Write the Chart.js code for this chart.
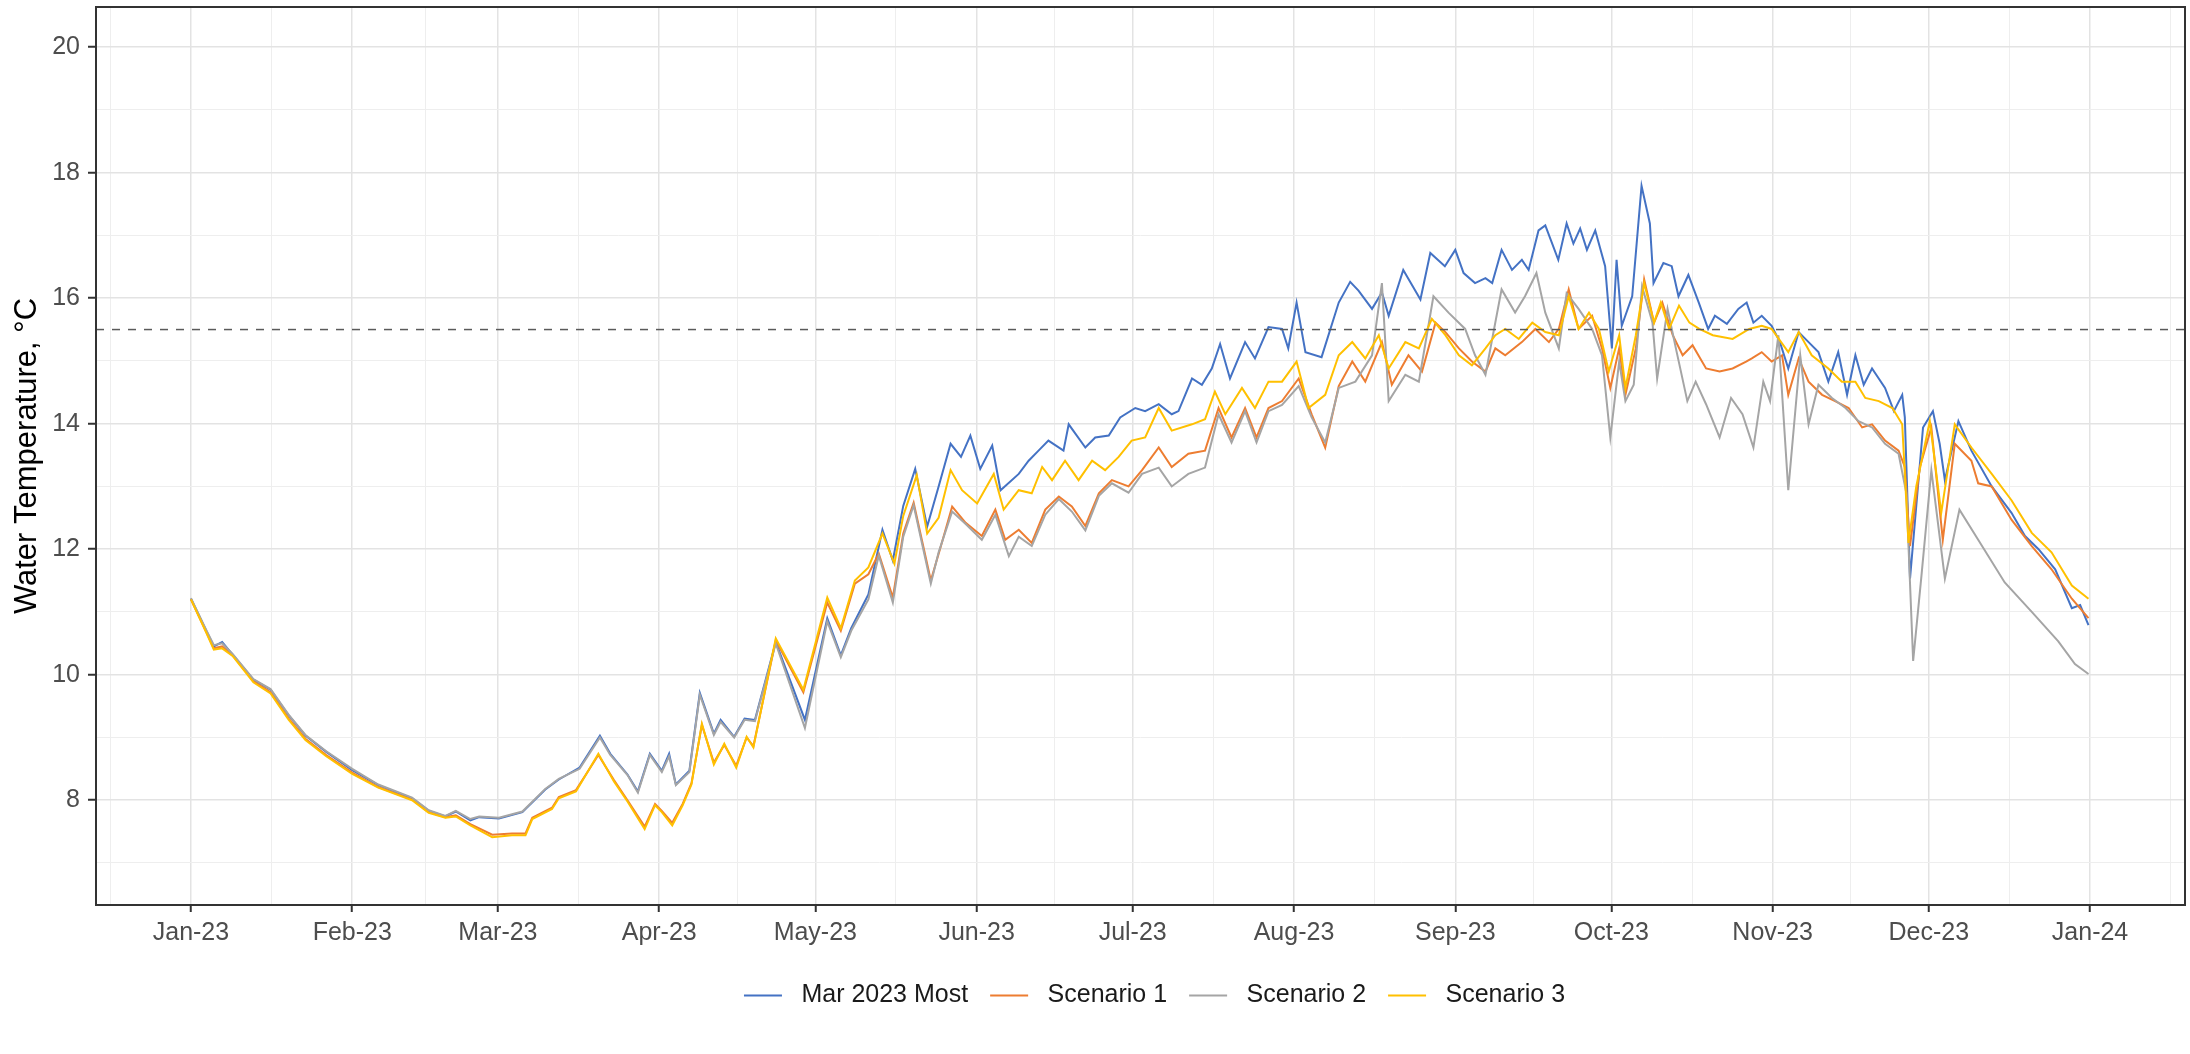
<!DOCTYPE html>
<html>
<head>
<meta charset="utf-8">
<title>Water Temperature 2023</title>
<script src="https://cdn.jsdelivr.net/npm/chart.js@4/dist/chart.umd.min.js"></script>
<style>
	html, body { margin: 0; padding: 0; background: #fff; }
	#wrap { width: 2190px; height: 1054px; }
</style>
</head>
<body>
<div id="wrap"><canvas id="chart" width="2190" height="1054"></canvas></div>
<script>
// day of year (0 = 1 Jan 2023), temperature in degC
const mostPts = [
	[0,11.21],[3,10.69],[4.4,10.45],[6,10.52],[8,10.32],[12,9.92],[15.3,9.76],[18.8,9.35],[22,9.03],[26,8.77],
	[31,8.48],[36,8.24],[42.5,8.03],[45.7,7.83],[48.9,7.74],[50.9,7.82],[53.7,7.68],[55.4,7.73],[59.2,7.71],[63.7,7.81],
	[68.1,8.17],[70.7,8.33],[74.7,8.52],[78.6,9.03],[80.6,8.74],[83.9,8.41],[85.9,8.14],[88.2,8.74],[90.5,8.47],[91.9,8.74],
	[93.2,8.25],[95.8,8.47],[97.8,9.71],[100.5,9.06],[101.8,9.28],[104.4,9.01],[106.4,9.30],[108.4,9.28],[112.4,10.52],[118,9.28],
	[122.3,10.90],[124.9,10.31],[126.9,10.74],[130.2,11.28],[132.9,12.31],[134.9,11.82],[136.9,12.69],[139.2,13.28],[141.5,12.36],[143.7,13.0],
	[146,13.68],[148,13.47],[149.8,13.81],[151.7,13.28],[154,13.65],[155.6,12.94],[159.1,13.2],[161,13.41],[162.9,13.57],[164.8,13.73],
	[167.7,13.57],[168.7,13.99],[171.9,13.62],[173.8,13.78],[176.4,13.81],[178.6,14.10],[181.5,14.25],[183.4,14.2],[186,14.31],[188.5,14.15],
	[189.8,14.2],[192.4,14.72],[194.3,14.62],[196.2,14.88],[197.8,15.27],[199.7,14.72],[202.6,15.3],[204.5,15.04],[207.1,15.54],[209.7,15.51],
	[210.9,15.2],[212.5,15.93],[214.2,15.14],[217.3,15.06],[220.6,15.93],[222.8,16.26],[224.4,16.12],[227,15.83],[228.9,16.09],[230.2,15.72],
	[233,16.45],[236.3,15.98],[238.2,16.72],[241,16.51],[243,16.77],[244.6,16.4],[246.8,16.24],[248.8,16.32],[250.1,16.24],[251.9,16.77],
	[253.9,16.45],[255.8,16.61],[257.1,16.45],[259,17.08],[260.3,17.16],[262.8,16.61],[264.4,17.19],[265.7,16.87],[267,17.11],[268.3,16.77],
	[269.9,17.08],[271.8,16.51],[273.1,15.2],[274,16.61],[275,15.56],[277,16.03],[278.8,17.79],[280.4,17.19],[281.1,16.24],[283,16.56],
	[284.6,16.51],[285.9,16.03],[287.8,16.37],[289.8,15.93],[291.6,15.51],[292.9,15.72],[295.2,15.59],[297.4,15.83],[299,15.93],[300.3,15.61],
	[301.9,15.72],[303.8,15.56],[305.4,15.30],[307,14.88],[309,15.46],[310.9,15.3],[312.8,15.14],[314.7,14.67],[316.6,15.14],[318.3,14.46],
	[319.9,15.09],[321.5,14.62],[323.1,14.88],[325.6,14.57],[327.3,14.2],[328.9,14.46],[329.4,14.1],[330.4,11.53],[332.9,13.94],[334.8,14.2],
	[336.1,13.68],[337.1,13.1],[339.7,14.04],[342.2,13.57],[346.1,13.0],[349.9,12.58],[352.5,12.21],[355.1,12.0],[358.3,11.68],[361.5,11.06],
	[363.1,11.11],[364.7,10.79]
];
const scen1Pts = [
	[0,11.2],[3,10.67],[4.4,10.42],[6,10.45],[8,10.31],[12,9.9],[15.3,9.72],[18.8,9.3],[22,8.98],[26,8.72],
	[31,8.44],[36,8.21],[42.5,8.01],[45.7,7.81],[48.9,7.73],[50.9,7.76],[53.7,7.62],[57.9,7.45],[61.7,7.47],[64.3,7.47],
	[65.6,7.72],[69.4,7.88],[70.7,8.05],[74,8.16],[78.3,8.72],[81.3,8.32],[83.9,8.0],[87.2,7.58],[89.2,7.94],[90.5,7.83],
	[92.5,7.64],[94.5,7.94],[96.2,8.27],[98.2,9.2],[100.5,8.6],[102.5,8.88],[104.8,8.55],[106.8,9.0],[108.1,8.86],[112.4,10.55],
	[117.7,9.72],[122.3,11.15],[124.9,10.7],[127.6,11.45],[130.2,11.6],[132.2,11.93],[134.9,11.23],[136.9,12.25],[138.9,12.74],[142.2,11.5],
	[144.1,12.04],[146.3,12.68],[148.9,12.42],[152,12.21],[154.6,12.63],[156.5,12.15],[159.1,12.31],[161.6,12.1],[164.2,12.63],[166.8,12.84],
	[169.3,12.68],[171.9,12.37],[174.5,12.89],[177,13.1],[180.2,13.0],[182.8,13.26],[186,13.62],[188.5,13.31],[191.7,13.52],[194.9,13.57],
	[197.5,14.25],[200,13.78],[202.6,14.25],[204.8,13.78],[207.1,14.25],[209.7,14.36],[212.9,14.72],[215.4,14.15],[218,13.62],[220.6,14.6],
	[223.2,14.99],[225.7,14.67],[228.9,15.3],[230.8,14.62],[234,15.09],[236.6,14.83],[239.2,15.61],[241.1,15.46],[243.7,15.2],[246.2,14.99],
	[248.8,14.83],[250.7,15.2],[252.6,15.09],[255.8,15.3],[258.4,15.51],[261,15.3],[262.9,15.51],[264.8,16.14],[266.7,15.51],[269.3,15.72],
	[271.2,15.2],[272.8,14.57],[274.5,15.2],[275.7,14.46],[277.7,15.2],[279.3,16.3],[281.2,15.61],[282.8,15.93],[284.8,15.41],[286.7,15.09],
	[288.6,15.25],[291.2,14.88],[293.8,14.83],[296.3,14.88],[298.9,14.99],[300,15.04],[301.9,15.14],[303.8,14.99],[305.8,15.09],[307,14.46],
	[309,15.04],[310.9,14.67],[313.5,14.46],[316,14.36],[318.6,14.25],[321.2,13.94],[323.1,13.99],[325.6,13.73],[328.2,13.57],[329.4,13.31],
	[330.4,12.05],[332.3,13.31],[334.5,13.94],[336.7,12.15],[339,13.68],[342.2,13.41],[343.5,13.05],[346.1,13.0],[349.9,12.47],[353.8,12.05],
	[357.6,11.68],[361.5,11.21],[364.7,10.9]
];
const scen2Pts = [
	[0,11.22],[3,10.7],[4.4,10.47],[6,10.5],[8,10.33],[12,9.93],[15.3,9.77],[18.8,9.36],[22,9.04],[26,8.78],
	[31,8.5],[36,8.25],[42.5,8.04],[45.7,7.84],[48.9,7.75],[50.9,7.83],[53.7,7.7],[55.4,7.74],[59.2,7.72],[63.7,7.82],
	[68.1,8.18],[70.7,8.34],[74.7,8.5],[78.6,9.0],[80.6,8.72],[83.9,8.4],[85.9,8.12],[88.2,8.72],[90.5,8.45],[91.9,8.7],
	[93.2,8.24],[95.8,8.45],[97.8,9.68],[100.5,9.04],[101.8,9.25],[104.4,9.0],[106.4,9.28],[108.4,9.26],[112.4,10.5],[118,9.15],
	[122.3,10.85],[124.9,10.28],[126.9,10.7],[130.2,11.2],[132.2,11.9],[134.9,11.15],[136.9,12.2],[138.9,12.7],[142.2,11.45],[143.7,11.95],
	[146.3,12.6],[148.9,12.4],[152,12.15],[154.6,12.55],[157.2,11.89],[159.1,12.2],[161.6,12.05],[164.2,12.55],[166.8,12.8],[169.3,12.6],
	[171.9,12.3],[174.5,12.85],[177,13.05],[180.2,12.9],[182.8,13.2],[186,13.3],[188.5,13.0],[191.7,13.2],[194.9,13.3],[197.5,14.15],
	[200,13.7],[202.6,14.2],[204.8,13.7],[207.1,14.2],[209.7,14.3],[212.9,14.6],[215.4,14.1],[218,13.7],[220.6,14.57],[223.8,14.67],
	[227,15.09],[228.9,16.24],[230.2,14.36],[233.4,14.78],[236,14.67],[238.8,16.03],[241.7,15.77],[244.9,15.51],[246.8,15.09],[248.8,14.78],
	[251.9,16.14],[254.5,15.77],[256.4,16.03],[258.6,16.4],[260.3,15.77],[262.9,15.2],[264.4,16.08],[266.7,15.83],[269.3,15.51],[271.2,15.09],
	[272.8,13.78],[274.5,14.99],[275.7,14.36],[277.3,14.62],[278.9,16.19],[280.9,15.61],[281.8,14.72],[283.8,15.83],[285.4,15.2],[287.6,14.36],
	[289.2,14.67],[291.2,14.31],[293.8,13.78],[296,14.41],[298.2,14.15],[300.3,13.62],[302.2,14.67],[303.5,14.36],[305.1,15.41],[307,12.94],
	[309.3,15.09],[310.9,13.99],[312.8,14.62],[315.4,14.41],[318,14.25],[320.5,14.04],[323.1,13.94],[325.6,13.68],[328.2,13.52],[329.7,12.89],
	[331,10.22],[332.6,11.58],[334.5,13.26],[337.1,11.53],[339.9,12.63],[343.5,12.15],[348.6,11.47],[353.8,11.0],[358.9,10.53],[362.1,10.17],
	[364.7,10.01]
];
const scen3Pts = [
	[0,11.2],[3,10.66],[4.4,10.40],[6,10.42],[8,10.3],[12,9.88],[15.3,9.70],[18.8,9.28],[22,8.96],[26,8.70],
	[31,8.42],[36,8.2],[42.5,8.0],[45.7,7.8],[48.9,7.72],[50.9,7.74],[53.7,7.6],[57.9,7.41],[61.7,7.44],[64.3,7.44],
	[65.6,7.70],[69.4,7.86],[70.7,8.03],[74,8.14],[78.3,8.74],[81.3,8.30],[83.9,7.98],[87.2,7.54],[89.2,7.92],[90.5,7.81],
	[92.5,7.60],[94.5,7.92],[96.2,8.25],[98.2,9.22],[100.5,8.57],[102.5,8.90],[104.8,8.52],[106.8,9.01],[108.1,8.84],[112.4,10.58],
	[117.7,9.76],[122.3,11.23],[124.9,10.74],[127.6,11.50],[130.2,11.71],[132.9,12.25],[135.2,11.77],[136.9,12.53],[139.5,13.18],[141.5,12.25],
	[143.7,12.5],[146,13.26],[148.2,12.94],[151.1,12.73],[154.3,13.2],[156.2,12.63],[159.1,12.94],[161.6,12.89],[163.6,13.31],[165.5,13.1],
	[168,13.41],[170.6,13.1],[173.2,13.41],[175.7,13.26],[178.3,13.47],[180.8,13.73],[183.4,13.78],[186,14.25],[188.5,13.89],[192.4,13.99],
	[194.9,14.07],[196.8,14.51],[198.8,14.15],[202,14.57],[204.5,14.25],[207.1,14.67],[209.7,14.67],[212.5,14.99],[214.8,14.25],[218,14.46],
	[220.6,15.09],[223.2,15.30],[225.7,15.04],[228.3,15.41],[230.2,14.88],[233.4,15.3],[236,15.2],[238.5,15.67],[241.1,15.41],[243.7,15.09],
	[246.2,14.93],[248.8,15.2],[250.7,15.41],[252.6,15.51],[255.2,15.35],[257.8,15.61],[260.3,15.46],[262.9,15.41],[264.8,16.03],[266.7,15.51],
	[268.7,15.77],[270.6,15.51],[272.5,14.83],[274.5,15.41],[275.7,14.57],[277.7,15.41],[279.3,16.24],[281.2,15.61],[282.5,15.93],[284.1,15.51],
	[286,15.88],[288,15.61],[289.9,15.51],[292.5,15.41],[296.3,15.35],[299.5,15.51],[301.9,15.56],[303.8,15.51],[307,15.14],[309,15.46],
	[311.5,15.09],[314.7,14.88],[317.3,14.67],[319.9,14.67],[321.8,14.41],[324.4,14.36],[327,14.25],[328.9,13.99],[330.1,12.1],[331.6,13.0],
	[334.2,14.04],[336.4,12.58],[339,13.99],[342.2,13.62],[346.1,13.2],[349.9,12.78],[353.8,12.26],[357.6,11.95],[361.5,11.42],[364.7,11.21]
];

const seriesNames = ['Mar 2023 Most', 'Scenario 1', 'Scenario 2', 'Scenario 3'];
const seriesColors = ['#4472C4', '#ED7D31', '#A5A5A5', '#FFC000'];
const thresholdTemp = 15.5;

const monthDays = [0, 31, 59, 90, 120, 151, 181, 212, 243, 273, 304, 334, 365];
const monthLabels = ['Jan-23', 'Feb-23', 'Mar-23', 'Apr-23', 'May-23', 'Jun-23', 'Jul-23',
	'Aug-23', 'Sep-23', 'Oct-23', 'Nov-23', 'Dec-23', 'Jan-24'];
const yMajor = [8, 10, 12, 14, 16, 18, 20];
const yMinor = [7, 9, 11, 13, 15, 17, 19];

const xMin = -18.25, xMax = 383.25;
const yMin = 6.33, yMax = 20.64;

// ggplot style minor breaks: half way between the month breaks
const xMinor = [monthDays[0] - (monthDays[1] - monthDays[0]) / 2];
for (let i = 0; i < monthDays.length - 1; i++) xMinor.push((monthDays[i] + monthDays[i + 1]) / 2);
xMinor.push(monthDays[12] + (monthDays[12] - monthDays[11]) / 2);

const toXY = pts => pts.map(p => ({ x: p[0], y: p[1] }));

const panelBorder = {
	id: 'panelBorder',
	afterDatasetsDraw(chart) {
		const a = chart.chartArea;
		const ctx = chart.ctx;
		ctx.save();
		ctx.strokeStyle = '#333333';
		ctx.lineWidth = 2;
		ctx.strokeRect(a.left, a.top, a.right - a.left, a.bottom - a.top);
		ctx.restore();
	}
};

// ggplot puts the legend a bit right of the canvas centre
const legendShift = {
	id: 'legendShift',
	afterLayout(chart) {
		const lg = chart.legend;
		if (!lg) return;
		const target = (chart.chartArea.left + chart.chartArea.right) / 2 + 14;
		const dx = target - (lg.left + lg.right) / 2;
		lg.left += dx;
		lg.right += dx;
	}
};

Chart.defaults.font.family = '"Liberation Sans", Arial, sans-serif';

const allPts = [mostPts, scen1Pts, scen2Pts, scen3Pts];
const datasets = allPts.map((pts, i) => ({
	label: seriesNames[i],
	data: toXY(pts),
	borderColor: seriesColors[i],
	backgroundColor: seriesColors[i],
	borderWidth: 2,
	pointRadius: 0,
	pointStyle: 'line',
	tension: 0,
	fill: false,
	order: 4 - i
}));
datasets.push({
	label: 'threshold',
	data: [{ x: xMin, y: thresholdTemp }, { x: xMax, y: thresholdTemp }],
	borderColor: '#5a5a5a',
	borderWidth: 1.5,
	borderDash: [8, 8],
	pointRadius: 0,
	fill: false,
	order: 0
});

const isMajorX = v => monthDays.includes(v);
const isMajorY = v => yMajor.includes(v);

new Chart(document.getElementById('chart'), {
	type: 'line',
	data: { datasets },
	options: {
		responsive: false,
		animation: false,
		devicePixelRatio: 1,
		layout: { padding: { left: 0, right: 5, top: 7, bottom: 36 } },
		plugins: {
			tooltip: { enabled: false },
			legend: {
				position: 'bottom',
				labels: {
					color: '#1a1a1a',
					font: { size: 25 },
					usePointStyle: true,
					pointStyle: 'line',
					pointStyleWidth: 38,
					padding: 22,
					sort: (a, b) => a.datasetIndex - b.datasetIndex,
					generateLabels: chart => Chart.defaults.plugins.legend.labels.generateLabels(chart)
						.filter(it => it.datasetIndex < seriesNames.length)
						.map(it => Object.assign(it, { text: ' ' + it.text }))
				}
			}
		},
		scales: {
			x: {
				type: 'linear',
				min: xMin,
				max: xMax,
				afterBuildTicks: scale => {
					scale.ticks = monthDays.concat(xMinor).sort((a, b) => a - b).map(v => ({ value: v }));
				},
				afterFit: scale => {
					scale.height = 56;
					scale.paddingLeft = 0;
					scale.paddingRight = 0;
				},
				ticks: {
					autoSkip: false,
					maxRotation: 0,
					color: '#4d4d4d',
					font: { size: 25 },
					padding: 6,
					callback: v => isMajorX(v) ? monthLabels[monthDays.indexOf(v)] : ''
				},
				grid: {
					color: c => isMajorX(c.tick.value) ? '#e3e3e3' : '#eeeeee',
					lineWidth: c => isMajorX(c.tick.value) ? 1.5 : 1,
					tickColor: c => isMajorX(c.tick.value) ? '#333333' : 'rgba(0,0,0,0)',
					tickLength: 7,
					tickWidth: 2
				},
				border: { display: false }
			},
			y: {
				type: 'linear',
				min: yMin,
				max: yMax,
				afterBuildTicks: scale => {
					scale.ticks = yMajor.concat(yMinor).sort((a, b) => a - b).map(v => ({ value: v }));
				},
				afterFit: scale => {
					scale.width = 96;
					scale.paddingTop = 0;
					scale.paddingBottom = 0;
				},
				ticks: {
					autoSkip: false,
					color: '#4d4d4d',
					font: { size: 25 },
					padding: 8,
					callback: v => isMajorY(v) ? String(v) : ''
				},
				grid: {
					color: c => isMajorY(c.tick.value) ? '#e3e3e3' : '#eeeeee',
					lineWidth: c => isMajorY(c.tick.value) ? 1.5 : 1,
					tickColor: c => isMajorY(c.tick.value) ? '#333333' : 'rgba(0,0,0,0)',
					tickLength: 8,
					tickWidth: 2
				},
				border: { display: false },
				title: {
					display: true,
					text: 'Water Temperature, °C',
					color: '#000000',
					font: { size: 31 },
					padding: { top: 9, bottom: 0 }
				}
			}
		}
	},
	plugins: [panelBorder, legendShift]
});
</script>
</body>
</html>
